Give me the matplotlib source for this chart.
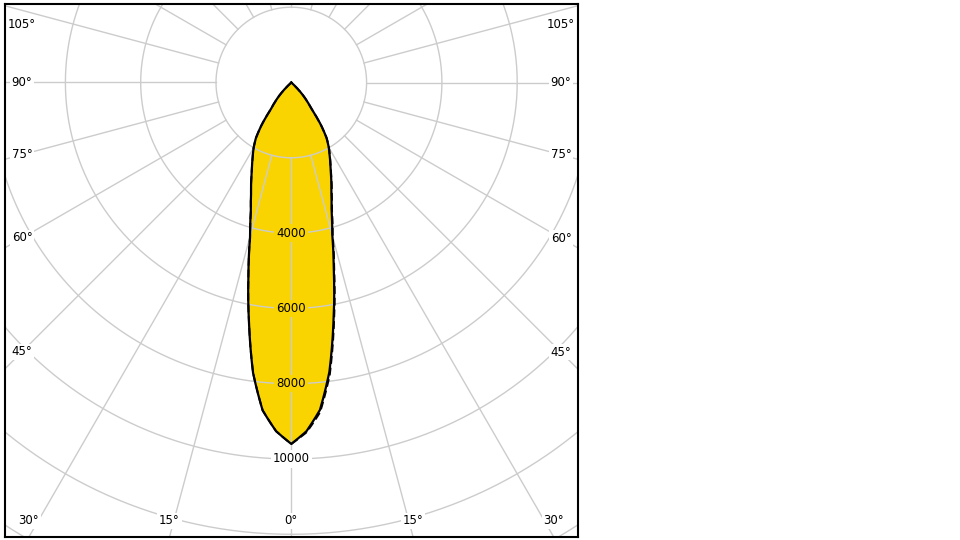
import numpy as np
import matplotlib.pyplot as plt

# ------------------------------------------------------
# Data: luminous intensity (cd) per gamma angle (deg)
# ------------------------------------------------------
gamma = [0, 2.5, 5, 7.5, 10, 12.5, 15, 17.5, 20, 22.5, 25,
         27.5, 30, 32.5, 35, 37.5, 40, 42.5, 45, 47.5]
i_c0 = [9600, 9270, 8730, 7750, 6450, 5230, 4200, 3550, 3110, 2770, 2460,
        2210, 1990, 1740, 1360, 880, 660, 460, 240, 0]
i_c180 = [9600, 9270, 8740, 7780, 6470, 5260, 4220, 3570, 3120, 2780, 2470,
          2220, 2000, 1750, 1370, 890, 670, 470, 250, 0]
i_c90 = [9600, 9300, 8790, 7830, 6520, 5290, 4250, 3590, 3140, 2790, 2480,
         2220, 2000, 1745, 1365, 885, 665, 460, 240, 0]
i_c270 = [9600, 9270, 8740, 7780, 6470, 5260, 4220, 3570, 3120, 2780, 2470,
          2220, 2000, 1750, 1370, 890, 670, 470, 250, 0]

ring_values = [2000, 4000, 6000, 8000, 10000, 12000, 14000, 16000]
ring_labels = [4000, 6000, 8000, 10000]
side_angles = [105, 90, 75, 60, 45]
bottom_angles = [30, 15, 0]

FILL = "#FAD400"
GRID = "#CCCCCC"

# ------------------------------------------------------
# Layout (pixels of a 960x540 figure)
# ------------------------------------------------------
W, H = 960, 540
frame_l, frame_r, frame_t, frame_b = 5, 578, 4, 537
cx, cy = 291.3, 82.5
s = 2000 / 75.3  # cd per pixel


def to_xy(theta_deg, r):
    t = np.radians(np.asarray(theta_deg, dtype=float))
    r = np.asarray(r, dtype=float)
    return r * np.sin(t), -r * np.cos(t)


def half_curve(right, left):
    # resample in the polar domain so the outline follows arcs, not chords
    fine = np.linspace(0, gamma[-1], 400)
    r_right = np.interp(fine, gamma, right)
    r_left = np.interp(fine, gamma, left)
    ang = np.concatenate([-fine[::-1], fine[1:]])
    val = np.concatenate([r_left[::-1], r_right[1:]])
    return to_xy(ang, val)


fig = plt.figure(figsize=(W / 100, H / 100), dpi=100)
ax = fig.add_axes([frame_l / W, (H - frame_b) / H,
                   (frame_r - frame_l) / W, (frame_b - frame_t) / H])
xmin, xmax = (frame_l - cx) * s, (frame_r - cx) * s
ymin, ymax = -(frame_b - cy) * s, (cy - frame_t) * s
ax.set_xlim(xmin, xmax)
ax.set_ylim(ymin, ymax)
ax.set_aspect("equal")
ax.set_xticks([])
ax.set_yticks([])
for sp in ax.spines.values():
    sp.set_linewidth(1.5)
    sp.set_color("black")
    sp.set_zorder(5)

# filled curve
xs, ys = half_curve(i_c0, i_c180)
ax.fill(xs, ys, color=FILL, zorder=1, lw=0)

# grid: rings and radial lines
th = np.linspace(0, 360, 721)
for r in ring_values:
    gx, gy = to_xy(th, np.full_like(th, r))
    ax.plot(gx, gy, color=GRID, lw=1.0, zorder=2)
for a in range(0, 360, 15):
    gx, gy = to_xy([a, a], [ring_values[0], ring_values[-1]])
    ax.plot(gx, gy, color=GRID, lw=1.0, zorder=2)

# curves
ax.plot(xs, ys, color="black", lw=1.6, zorder=3, solid_joinstyle="round")
dx, dy = half_curve(i_c90, i_c270)
ax.plot(dx, dy, color="black", lw=1.4, ls=(0, (4, 2)), zorder=3)

# ring value labels along 0 deg
for r in ring_labels:
    bg = FILL if r < i_c0[0] else "white"
    ax.text(0, -r, str(r), ha="center", va="center", fontsize=8.5, zorder=4,
            bbox=dict(facecolor=bg, edgecolor="none", pad=1.5))

# angle labels near the frame, along each ray
ins_x, ins_y, ins_top = 17 * s, 16 * s, 20 * s


def label_pos(theta_deg):
    t = np.radians(theta_deg)
    ux, uy = np.sin(t), -np.cos(t)
    t_side = np.inf
    if abs(ux) > 1e-9:
        t_side = ((xmin + ins_x) if ux < 0 else (xmax - ins_x)) / ux
    t_bot = ymin / uy if uy < -1e-9 else np.inf
    if t_side * abs(uy) < abs(ymin + ins_y) or uy >= 0:
        return ux * t_side, min(uy * t_side, ymax - ins_top)
    return ux * t_bot, ymin + ins_y


for a in side_angles + bottom_angles:
    for sign in ([-1, 1] if a != 0 else [1]):
        px, py = label_pos(sign * a)
        ax.text(px, py, f"{a}°", ha="center", va="center", fontsize=8.5,
                zorder=4, bbox=dict(facecolor="white", edgecolor="none", pad=1.2))

fig.savefig("out.png", dpi=100)
